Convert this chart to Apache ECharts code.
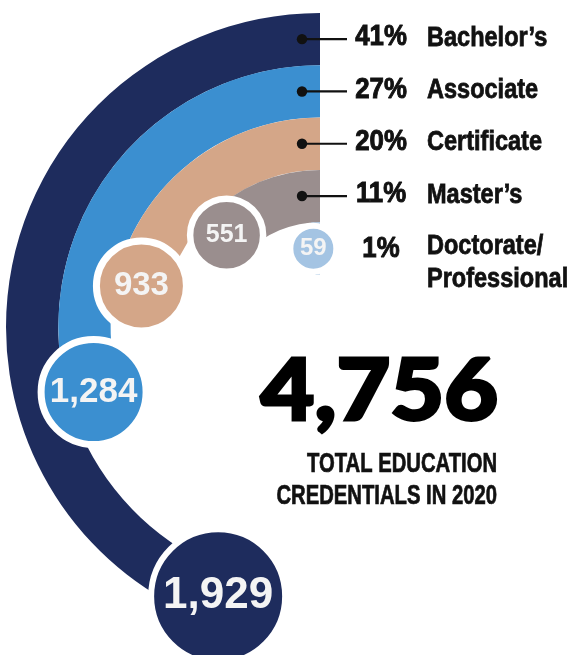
<!DOCTYPE html>
<html>
<head>
<meta charset="utf-8">
<script src="https://cdn.jsdelivr.net/npm/echarts@6/dist/echarts.min.js"></script>
<style>
  html, body { margin: 0; padding: 0; background: #fff; }
  #main { width: 574px; height: 655px; }
</style>
</head>
<body>
<div id="main"></div>
<script>
var categories = ['Bachelor’s', 'Associate', 'Certificate', 'Master’s', 'Doctorate/\nProfessional']
var credentials = [1929, 1284, 933, 551, 59]
var shares = ['41%', '27%', '20%', '11%', '1%']
var totalCaption = 'TOTAL EDUCATION\nCREDENTIALS IN 2020'

var colors = ['#1e2c5d', '#3b8fd0', '#d4a688', '#9a8e8e', '#a4c4e3']
var bubbleSize = [134, 105, 90, 73, 46]
var bubbleBorder = [6, 7, 7, 6.5, 6]
var bubbleFont = [44, 35, 33, 25, 24]
var sans = "'Liberation Sans', Arial, sans-serif"

var total = credentials.reduce(function (a, b) { return a + b }, 0)

var chart = echarts.init(document.getElementById('main'), null, { renderer: 'canvas' })

// dot + leader line + share + name, anchored on each ring where it starts
function renderLeader(params, api) {
  var i = params.dataIndex
  var p = api.coord([api.value(0), 0])
  var twoLine = categories[i].indexOf('\n') >= 0
  var kids = []
  if (!twoLine) {
    kids.push({
      type: 'line',
      shape: { x1: p[0] - 18, y1: p[1], x2: p[0] + 27, y2: p[1] },
      style: { stroke: '#111', lineWidth: 2.2 }
    })
    kids.push({
      type: 'circle',
      shape: { cx: p[0] - 18, cy: p[1], r: 5.2 },
      style: { fill: '#111' }
    })
  }
  kids.push({
    type: 'text',
    x: p[0] + 61,
    y: p[1] - (twoLine ? 0 : 2),
    scaleX: 0.86,
    style: {
      text: shares[i], align: 'center', verticalAlign: 'middle',
      font: 'bold 30px ' + sans, fill: '#111', stroke: '#111', lineWidth: 1
    }
  })
  kids.push({
    type: 'text',
    x: p[0] + 107,
    y: twoLine ? p[1] - 19 : p[1] - 1,
    scaleX: 0.84,
    style: {
      text: categories[i], align: 'left', verticalAlign: twoLine ? 'top' : 'middle',
      font: 'bold 28px ' + sans, lineHeight: 33, fill: '#111', stroke: '#111', lineWidth: 0.8
    }
  })
  return { type: 'group', children: kids }
}

chart.setOption({
  animation: false,
  backgroundColor: '#fff',
  polar: {
    center: [320, 327],
    radius: [52.5, 314]
  },
  angleAxis: {
    type: 'value',
    min: 0,
    max: 4360,
    startAngle: 90,
    clockwise: false,
    show: false
  },
  radiusAxis: {
    type: 'category',
    data: categories,
    inverse: true,
    show: false
  },
  graphic: [
    {
      type: 'text',
      x: 498,
      y: 392,
      scaleX: 1.08,
      style: {
        text: total.toLocaleString('en-US'),
        align: 'right',
        verticalAlign: 'middle',
        font: '900 86px Lato, sans-serif',
        fill: '#000',
        stroke: '#000',
        lineWidth: 3
      }
    },
    {
      type: 'text',
      x: 497,
      y: 481,
      scaleX: 0.75,
      style: {
        text: totalCaption,
        align: 'right',
        verticalAlign: 'middle',
        font: 'bold 27px ' + sans,
        lineHeight: 32,
        fill: '#111',
        stroke: '#111',
        lineWidth: 0.7
      }
    }
  ],
  series: [
    {
      type: 'bar',
      coordinateSystem: 'polar',
      barCategoryGap: '0%',
      silent: true,
      z: 1,
      data: credentials.map(function (v, i) {
        return { value: v, itemStyle: { color: colors[i] } }
      })
    },
    {
      type: 'scatter',
      coordinateSystem: 'polar',
      silent: true,
      z: 3,
      data: credentials.map(function (v, i) {
        return {
          value: [i, v],
          symbolSize: bubbleSize[i],
          itemStyle: { color: colors[i], borderColor: '#fff', borderWidth: bubbleBorder[i], opacity: 1 },
          label: { fontSize: bubbleFont[i] }
        }
      }),
      label: {
        show: true,
        position: 'inside',
        color: '#f4f4f4',
        fontFamily: sans,
        fontWeight: 'bold',
        formatter: function (p) { return p.value[1].toLocaleString('en-US') }
      }
    },
    {
      type: 'custom',
      coordinateSystem: 'polar',
      silent: true,
      z: 4,
      data: categories.map(function (c, i) { return [i, 0] }),
      renderItem: renderLeader
    }
  ]
})
</script>
</body>
</html>
